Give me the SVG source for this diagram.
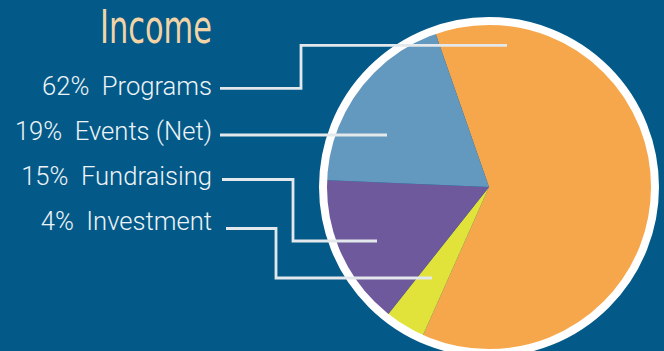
<svg xmlns="http://www.w3.org/2000/svg" width="664" height="351" viewBox="0 0 664 351">
<style>
.lbl{font-family:Roboto,"Liberation Sans",sans-serif;font-weight:300;font-size:25.6px;fill:#EEF3F7;text-anchor:end;white-space:pre}
.lead{fill:none;stroke:#E3E8EC;stroke-width:2.8}
</style>
<rect width="664" height="351" fill="#035A88"/>
<text x="156" y="43" text-anchor="middle" font-family="'Liberation Sans Narrow','DejaVu Sans',sans-serif" font-stretch="condensed" font-size="46" fill="#F3D4A6" textLength="112" lengthAdjust="spacingAndGlyphs">Income</text>
<g id="pie">
<path d="M489 187 L434.4 30.2 A166 166 0 1 1 421.5 338.6 Z" fill="#F7A74B"/>
<path d="M489 187 L421.5 338.6 A166 166 0 0 1 385.9 317.1 Z" fill="#E1E23A"/>
<path d="M489 187 L385.9 317.1 A166 166 0 0 1 323.1 180 Z" fill="#6F599D"/>
<path d="M489 187 L323.1 180 A166 166 0 0 1 434.4 30.2 Z" fill="#6398BF"/>
<circle cx="489" cy="187" r="166" fill="none" stroke="#FFFFFF" stroke-width="8"/>
</g>
<g id="label-programs"><text class="lbl" x="212" y="95" xml:space="preserve">62%  Programs</text></g>
<g id="label-events"><text class="lbl" x="212" y="140" xml:space="preserve">19%  Events (Net)</text></g>
<g id="label-fundraising"><text class="lbl" x="212" y="185" xml:space="preserve">15%  Fundraising</text></g>
<g id="label-investment"><text class="lbl" x="212" y="230" xml:space="preserve">4%  Investment</text></g>
<g id="connectors">
<polyline class="lead" points="220,88.3 301,88.3 301,45.3 507,45.3"/>
<polyline class="lead" points="220,135 387,135"/>
<polyline class="lead" points="222,179.5 293,179.5 293,241 377,241"/>
<polyline class="lead" points="226,228.5 276,228.5 276,278 432,278"/>
</g>
</svg>
